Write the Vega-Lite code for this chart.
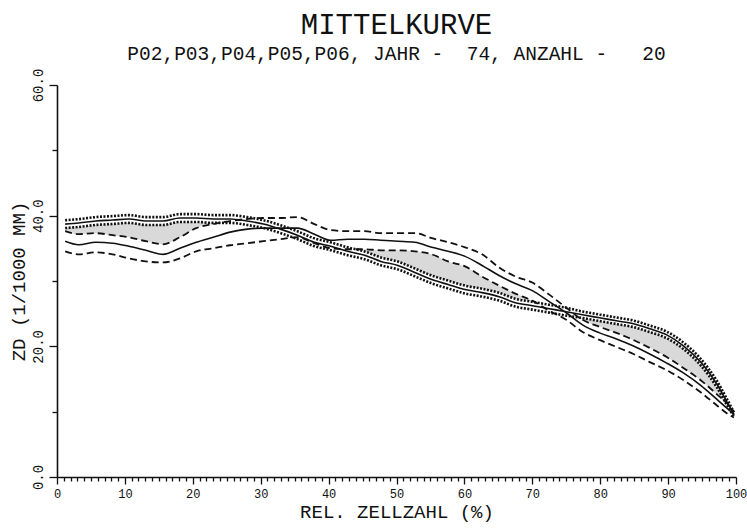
{
  "$schema": "https://vega.github.io/schema/vega-lite/v6.json",
  "width": 679,
  "height": 392,
  "autosize": {"type": "none"},
  "padding": {"left": 57, "top": 85, "right": 11, "bottom": 52},
  "background": "white",
  "config": {"view": {"stroke": null}},
  "title": {
    "text": "MITTELKURVE",
    "subtitle": "P02,P03,P04,P05,P06, JAHR -\u00a0 74, ANZAHL -\u00a0\u00a0 20",
    "anchor": "middle",
    "frame": "group",
    "font": "Liberation Mono",
    "fontSize": 29,
    "fontWeight": "normal",
    "color": "#111",
    "subtitleFont": "Liberation Mono",
    "subtitleFontSize": 19.5,
    "subtitleColor": "#111",
    "subtitlePadding": 5,
    "offset": 5
  },
  "datasets": {
    "curves": [
      {"x": 1.2, "u1": 37.63, "m1": 36.09, "l1": 34.55, "m2": 38.71, "u2": 39.31, "l2": 38.11},
      {"x": 3.2, "u1": 37.17, "m1": 35.55, "l1": 34.08, "m2": 38.87, "u2": 39.47, "l2": 38.27},
      {"x": 5.7, "u1": 37.32, "m1": 35.93, "l1": 34.39, "m2": 39.18, "u2": 39.78, "l2": 38.58},
      {"x": 8.2, "u1": 37.01, "m1": 35.78, "l1": 34.08, "m2": 39.33, "u2": 39.93, "l2": 38.73},
      {"x": 10.6, "u1": 36.70, "m1": 35.32, "l1": 33.46, "m2": 39.49, "u2": 40.09, "l2": 38.89},
      {"x": 13.1, "u1": 36.09, "m1": 34.70, "l1": 33.00, "m2": 39.18, "u2": 39.78, "l2": 38.58},
      {"x": 15.6, "u1": 35.62, "m1": 34.08, "l1": 32.84, "m2": 39.18, "u2": 39.78, "l2": 38.58},
      {"x": 18.1, "u1": 36.70, "m1": 35.01, "l1": 33.46, "m2": 39.64, "u2": 40.24, "l2": 39.04},
      {"x": 20.5, "u1": 38.09, "m1": 35.93, "l1": 34.55, "m2": 39.64, "u2": 40.24, "l2": 39.04},
      {"x": 23.0, "u1": 38.71, "m1": 36.70, "l1": 35.01, "m2": 39.49, "u2": 40.09, "l2": 38.89},
      {"x": 25.5, "u1": 39.18, "m1": 37.48, "l1": 35.47, "m2": 39.49, "u2": 40.09, "l2": 38.89},
      {"x": 28.0, "u1": 39.49, "m1": 37.94, "l1": 35.78, "m2": 39.18, "u2": 39.78, "l2": 38.58},
      {"x": 30.4, "u1": 39.64, "m1": 38.09, "l1": 36.09, "m2": 38.71, "u2": 39.31, "l2": 38.11},
      {"x": 32.9, "u1": 39.64, "m1": 38.09, "l1": 36.40, "m2": 37.94, "u2": 38.54, "l2": 37.34},
      {"x": 35.4, "u1": 39.79, "m1": 38.09, "l1": 36.70, "m2": 37.01, "u2": 37.61, "l2": 36.41},
      {"x": 37.9, "u1": 38.71, "m1": 37.17, "l1": 35.78, "m2": 35.93, "u2": 36.53, "l2": 35.33},
      {"x": 40.3, "u1": 37.79, "m1": 36.24, "l1": 35.01, "m2": 35.32, "u2": 35.92, "l2": 34.72},
      {"x": 42.8, "u1": 37.63, "m1": 36.40, "l1": 34.86, "m2": 34.55, "u2": 35.15, "l2": 33.95},
      {"x": 45.3, "u1": 37.63, "m1": 36.40, "l1": 34.86, "m2": 33.93, "u2": 34.53, "l2": 33.33},
      {"x": 47.7, "u1": 37.32, "m1": 36.24, "l1": 34.70, "m2": 33.00, "u2": 33.60, "l2": 32.40},
      {"x": 50.2, "u1": 37.32, "m1": 36.09, "l1": 34.70, "m2": 32.38, "u2": 32.98, "l2": 31.78},
      {"x": 52.7, "u1": 37.32, "m1": 35.93, "l1": 34.55, "m2": 31.31, "u2": 31.91, "l2": 30.71},
      {"x": 55.2, "u1": 36.55, "m1": 35.16, "l1": 34.08, "m2": 30.23, "u2": 30.83, "l2": 29.63},
      {"x": 57.6, "u1": 35.93, "m1": 34.55, "l1": 33.00, "m2": 29.46, "u2": 30.06, "l2": 28.86},
      {"x": 60.1, "u1": 35.16, "m1": 33.77, "l1": 32.23, "m2": 28.69, "u2": 29.29, "l2": 28.09},
      {"x": 62.6, "u1": 34.08, "m1": 32.38, "l1": 30.69, "m2": 28.22, "u2": 28.82, "l2": 27.62},
      {"x": 65.1, "u1": 32.08, "m1": 30.84, "l1": 29.30, "m2": 27.60, "u2": 28.20, "l2": 27.00},
      {"x": 67.5, "u1": 30.69, "m1": 29.61, "l1": 28.07, "m2": 26.68, "u2": 27.28, "l2": 26.08},
      {"x": 70.0, "u1": 29.76, "m1": 28.53, "l1": 26.99, "m2": 26.22, "u2": 26.82, "l2": 25.62},
      {"x": 72.5, "u1": 27.91, "m1": 26.84, "l1": 25.45, "m2": 25.76, "u2": 26.36, "l2": 25.16},
      {"x": 75.0, "u1": 25.91, "m1": 25.14, "l1": 24.06, "m2": 25.30, "u2": 25.90, "l2": 24.70},
      {"x": 77.4, "u1": 24.06, "m1": 23.29, "l1": 22.21, "m2": 24.83, "u2": 25.33, "l2": 24.33},
      {"x": 79.9, "u1": 22.99, "m1": 22.06, "l1": 20.98, "m2": 24.37, "u2": 24.87, "l2": 23.87},
      {"x": 82.4, "u1": 22.06, "m1": 21.13, "l1": 19.90, "m2": 23.91, "u2": 24.41, "l2": 23.41},
      {"x": 84.9, "u1": 20.98, "m1": 20.05, "l1": 18.82, "m2": 23.45, "u2": 23.95, "l2": 22.95},
      {"x": 87.3, "u1": 19.75, "m1": 18.82, "l1": 17.59, "m2": 22.68, "u2": 23.18, "l2": 22.18},
      {"x": 89.8, "u1": 18.36, "m1": 17.43, "l1": 16.35, "m2": 21.75, "u2": 22.25, "l2": 21.25},
      {"x": 92.3, "u1": 16.66, "m1": 15.89, "l1": 14.81, "m2": 20.05, "u2": 20.55, "l2": 19.55},
      {"x": 94.8, "u1": 14.81, "m1": 14.04, "l1": 12.96, "m2": 17.59, "u2": 18.09, "l2": 17.09},
      {"x": 97.2, "u1": 12.65, "m1": 11.88, "l1": 10.95, "m2": 14.19, "u2": 14.69, "l2": 13.69},
      {"x": 98.7, "u1": 11.26, "m1": 10.49, "l1": 9.72, "m2": 11.41, "u2": 11.86, "l2": 10.96},
      {"x": 99.7, "u1": 10.0, "m1": 9.6, "l1": 9.1, "m2": 9.6, "u2": 9.9, "l2": 9.3}
    ],
    "shade": [
      {"x": 1.2, "lo": 37.63, "hi": 38.11, "seg": "a"},
      {"x": 3.2, "lo": 37.17, "hi": 38.27, "seg": "a"},
      {"x": 5.7, "lo": 37.32, "hi": 38.58, "seg": "a"},
      {"x": 8.2, "lo": 37.01, "hi": 38.73, "seg": "a"},
      {"x": 10.6, "lo": 36.70, "hi": 38.89, "seg": "a"},
      {"x": 13.1, "lo": 36.09, "hi": 38.58, "seg": "a"},
      {"x": 15.6, "lo": 35.62, "hi": 38.58, "seg": "a"},
      {"x": 18.1, "lo": 36.70, "hi": 39.04, "seg": "a"},
      {"x": 20.5, "lo": 38.09, "hi": 39.04, "seg": "a"},
      {"x": 23.0, "lo": 38.71, "hi": 38.89, "seg": "a"},
      {"x": 24.0, "lo": 38.89, "hi": 38.89, "seg": "a"},
      {"x": 43.9, "lo": 34.86, "hi": 34.86, "seg": "b"},
      {"x": 45.3, "lo": 34.53, "hi": 34.86, "seg": "b"},
      {"x": 47.7, "lo": 33.60, "hi": 34.70, "seg": "b"},
      {"x": 50.2, "lo": 32.98, "hi": 34.70, "seg": "b"},
      {"x": 52.7, "lo": 31.91, "hi": 34.55, "seg": "b"},
      {"x": 55.2, "lo": 30.83, "hi": 34.08, "seg": "b"},
      {"x": 57.6, "lo": 30.06, "hi": 33.00, "seg": "b"},
      {"x": 60.1, "lo": 29.29, "hi": 32.23, "seg": "b"},
      {"x": 62.6, "lo": 28.82, "hi": 30.69, "seg": "b"},
      {"x": 65.1, "lo": 28.20, "hi": 29.30, "seg": "b"},
      {"x": 67.5, "lo": 27.28, "hi": 28.07, "seg": "b"},
      {"x": 70.0, "lo": 26.82, "hi": 26.99, "seg": "b"},
      {"x": 70.4, "lo": 26.75, "hi": 26.75, "seg": "b"},
      {"x": 76.9, "lo": 24.40, "hi": 24.40, "seg": "c"},
      {"x": 77.4, "lo": 24.06, "hi": 24.33, "seg": "c"},
      {"x": 79.9, "lo": 22.99, "hi": 23.87, "seg": "c"},
      {"x": 82.4, "lo": 22.06, "hi": 23.41, "seg": "c"},
      {"x": 84.9, "lo": 20.98, "hi": 22.95, "seg": "c"},
      {"x": 87.3, "lo": 19.75, "hi": 22.18, "seg": "c"},
      {"x": 89.8, "lo": 18.36, "hi": 21.25, "seg": "c"},
      {"x": 92.3, "lo": 16.66, "hi": 19.55, "seg": "c"},
      {"x": 94.8, "lo": 14.81, "hi": 17.09, "seg": "c"},
      {"x": 97.2, "lo": 12.65, "hi": 13.69, "seg": "c"},
      {"x": 98.4, "lo": 11.55, "hi": 11.55, "seg": "c"}
    ]
  },
  "encoding": {
    "x": {
      "field": "x",
      "type": "quantitative",
      "scale": {"domain": [0, 100], "nice": false},
      "axis": {
        "title": "REL. ZELLZAHL (%)",
        "tickCount": 100,
        "format": "d",
        "labelExpr": "datum.value % 10 === 0 ? datum.label : ''",
        "tickSize": {"condition": {"test": "datum.value % 10 === 0", "value": 7}, "value": 4},
        "labelFlush": false,
        "labelOverlap": false,
        "grid": false,
        "domainColor": "#111",
        "domainWidth": 1.6,
        "tickColor": "#111",
        "tickWidth": 1.3,
        "labelFont": "Liberation Mono",
        "labelFontSize": 12,
        "labelColor": "#111",
        "labelPadding": 4,
        "titleFont": "Liberation Mono",
        "titleFontSize": 19,
        "titleFontWeight": "normal",
        "titleColor": "#111",
        "titlePadding": 3
      }
    },
    "y": {
      "type": "quantitative",
      "scale": {"domain": [0, 60], "nice": false},
      "axis": {
        "title": "ZD (1/1000 MM)",
        "tickCount": 6,
        "format": ".1f",
        "labelExpr": "datum.value % 20 === 0 ? datum.label : ''",
        "tickSize": {"condition": {"test": "datum.value % 20 === 0", "value": 8}, "value": 5},
        "labelAngle": -90,
        "labelAlign": "center",
        "labelBaseline": "bottom",
        "labelPadding": 4,
        "labelOverlap": false,
        "labelFlush": false,
        "grid": false,
        "domainColor": "#111",
        "domainWidth": 1.6,
        "tickColor": "#111",
        "tickWidth": 1.3,
        "labelFont": "Liberation Mono",
        "labelFontSize": 14,
        "labelColor": "#111",
        "titleFont": "Liberation Mono",
        "titleFontSize": 19,
        "titleFontWeight": "normal",
        "titleColor": "#111",
        "titlePadding": 3
      }
    }
  },
  "layer": [
    {
      "data": {"name": "shade"},
      "mark": {"type": "area", "interpolate": "monotone", "color": "#d9d9d9"},
      "encoding": {
        "y": {"field": "lo"},
        "y2": {"field": "hi"},
        "detail": {"field": "seg"}
      }
    },
    {
      "data": {"name": "curves"},
      "mark": {"type": "line", "interpolate": "monotone", "color": "#111", "strokeWidth": 1.8, "strokeDash": [7, 4]},
      "encoding": {"y": {"field": "u1"}}
    },
    {
      "data": {"name": "curves"},
      "mark": {"type": "line", "interpolate": "monotone", "color": "#111", "strokeWidth": 1.8, "strokeDash": [7, 4]},
      "encoding": {"y": {"field": "l1"}}
    },
    {
      "data": {"name": "curves"},
      "mark": {"type": "line", "interpolate": "monotone", "color": "#111", "strokeWidth": 1.6},
      "encoding": {"y": {"field": "m1"}}
    },
    {
      "data": {"name": "curves"},
      "mark": {"type": "line", "interpolate": "monotone", "color": "#111", "strokeWidth": 2.6, "strokeDash": [2, 1.5]},
      "encoding": {"y": {"field": "u2"}}
    },
    {
      "data": {"name": "curves"},
      "mark": {"type": "line", "interpolate": "monotone", "color": "#111", "strokeWidth": 2.6, "strokeDash": [2, 1.5]},
      "encoding": {"y": {"field": "l2"}}
    },
    {
      "data": {"name": "curves"},
      "mark": {"type": "line", "interpolate": "monotone", "color": "#111", "strokeWidth": 1.6},
      "encoding": {"y": {"field": "m2"}}
    }
  ]
}
